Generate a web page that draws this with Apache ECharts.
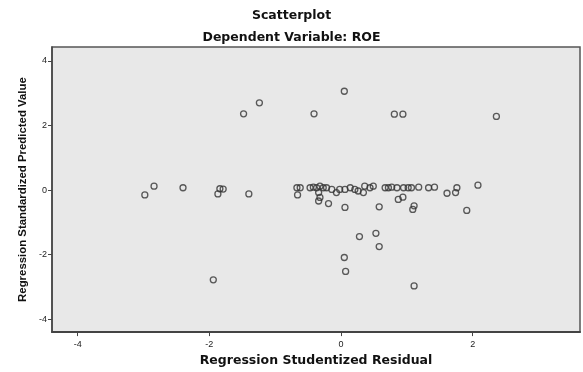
<!DOCTYPE html>
<html>
<head>
<meta charset="utf-8">
<script src="https://cdn.jsdelivr.net/npm/echarts@6/dist/echarts.min.js"></script>
<style>html,body{margin:0;padding:0;background:#fff}#c{width:583px;height:372px}</style>
</head>
<body>
<div id="c"></div>
<script>
const titleText = "Scatterplot";
const subtitleText = "Dependent Variable: ROE";
const xAxisName = "Regression Studentized Residual";
const yAxisName = "Regression Standardized Predicted Value";
const xTicks = [-4, -2, 0, 2];
const yTicks = [-4, -2, 0, 2, 4];
const residuals = [
  -2.98,-2.84,-2.40,-1.84,-1.87,-1.79,-1.40,-0.67,-0.62,-0.66,
  -0.47,-0.42,-0.37,-0.32,-0.27,-0.22,-0.34,-0.32,-0.34,-0.19,
  -0.14,-0.07,-0.02,0.06,0.06,0.14,0.21,0.26,0.34,0.36,
  0.44,0.49,0.67,0.72,0.77,0.85,0.95,1.02,1.07,0.87,
  0.94,0.58,1.11,1.09,1.18,1.33,1.42,1.61,1.74,1.76,
  2.08,1.91,
  -1.48,-1.24,-0.41,0.05,0.81,0.94,2.36,
  -1.94,0.28,0.53,0.58,0.05,0.07,1.11
];
const predicted = [
  -0.15,0.12,0.07,0.04,-0.12,0.03,-0.12,0.07,0.07,-0.15,
  0.07,0.09,0.07,0.12,0.07,0.07,-0.08,-0.23,-0.34,-0.42,
  0.02,-0.08,0.02,-0.54,0.02,0.07,0.02,-0.03,-0.08,0.12,
  0.07,0.12,0.07,0.07,0.09,0.07,0.07,0.07,0.07,-0.29,
  -0.22,-0.52,-0.49,-0.60,0.09,0.07,0.09,-0.10,-0.08,0.07,
  0.15,-0.63,
  2.36,2.70,2.36,3.06,2.35,2.35,2.28,
  -2.78,-1.44,-1.34,-1.75,-2.09,-2.52,-2.97
];
const points = residuals.map((x, i) => [x, predicted[i]]);
const font = "Liberation Sans, Arial, sans-serif";
const wideFont = "DejaVu Sans, Liberation Sans, sans-serif";
const chart = echarts.init(document.getElementById('c'), null, {renderer: 'canvas'});
chart.setOption({
  animation: false,
  backgroundColor: '#ffffff',
  title: [
    {text: titleText, left: 'center', top: 4, textStyle: {fontFamily: wideFont, fontSize: 12.5, fontWeight: 'bold', color: '#111'}},
    {text: subtitleText, left: 'center', top: 26, textStyle: {fontFamily: wideFont, fontSize: 12.5, fontWeight: 'bold', color: '#111'}}
  ],
  grid: {left: 52, top: 47, right: 3, bottom: 39, show: true, backgroundColor: '#e8e8e8', borderColor: '#555', borderWidth: 1.5},
  xAxis: {
    type: 'value', min: -4.39, max: 3.63,
    name: xAxisName, nameLocation: 'middle', nameGap: 19,
    nameTextStyle: {fontFamily: wideFont, fontSize: 12.5, fontWeight: 'bold', color: '#111'},
    axisLine: {show: true, onZero: false, lineStyle: {color: '#444', width: 2}},
    axisTick: {show: true, length: 4, customValues: xTicks, lineStyle: {color: '#444'}},
    axisLabel: {customValues: xTicks, fontFamily: font, fontSize: 9, color: '#222', margin: 8},
    splitLine: {show: false}
  },
  yAxis: {
    type: 'value', min: -4.40, max: 4.43,
    name: yAxisName, nameLocation: 'middle', nameGap: 24,
    nameTextStyle: {fontFamily: font, fontSize: 11.4, fontWeight: 'bold', color: '#111'},
    axisLine: {show: true, onZero: false, lineStyle: {color: '#444', width: 1.5}},
    axisTick: {show: true, length: 4, customValues: yTicks, lineStyle: {color: '#444'}},
    axisLabel: {customValues: yTicks, fontFamily: font, fontSize: 9, color: '#222', margin: 5},
    splitLine: {show: false}
  },
  series: [{
    type: 'scatter',
    data: points,
    symbol: 'circle',
    symbolSize: 6,
    itemStyle: {color: 'rgba(0,0,0,0)', borderColor: '#333', borderWidth: 1.3}
  }]
});
</script>
</body>
</html>
